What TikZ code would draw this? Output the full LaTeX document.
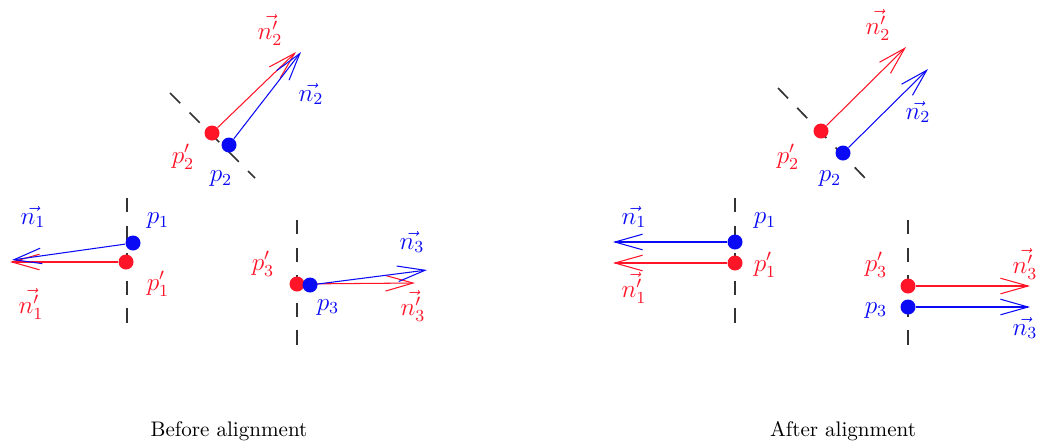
\documentclass[tikz,border=0pt]{standalone}
\usepackage{amsmath}
\usetikzlibrary{arrows.meta}
\definecolor{ptred}{RGB}{255,20,40}
\definecolor{ptblue}{RGB}{10,10,245}

\begin{document}
\begin{tikzpicture}[x=0.01667cm,y=-0.01667cm,
  >={Straight Barb[length=4.6mm,width=2.6mm]},
  pt/.style={circle,inner sep=0pt,minimum size=2.5mm},
  ref/.style={draw=black!80,line width=0.8pt,dash pattern=on 2.4mm off 2.2mm},
  vec/.style={->,line width=0.5pt},
  lab/.style={inner sep=0pt,font=\large}]
  \useasboundingbox (0,0) rectangle (1041,443);
  % before alignment
  \draw[ref] (127,198) -- (127,325);
  \draw[ref] (170,93) -- (255,178);
  \draw[ref] (297,220) -- (297,348);
  \coordinate (bn1) at (12,260);  \coordinate (bm1) at (10,262);
  \coordinate (bn2) at (301,52);  \coordinate (bm2) at (296,52);
  \coordinate (bn3) at (427,270); \coordinate (bm3) at (415,283);
  \node[pt,fill=ptred] (bq1) at (126,262) {};
  \node[pt,fill=ptblue] (bp1) at (133,243) {};
  \node[pt,fill=ptred] (bq2) at (212,133) {};
  \node[pt,fill=ptblue] (bp2) at (229,145) {};
  \draw[vec,ptred] (bq1) -- (bm1);
  \draw[vec,ptblue] (bp1) -- (bn1);
  \draw[vec,ptred] (bq2) -- (bm2);
  \draw[vec,ptblue] (bp2) -- (bn2);
  \draw[vec,ptred] (297,284) -- (bm3);
  \draw[vec,ptblue] (310,285) -- (bn3);
  \node[pt,fill=ptred] (bq3) at (297,284) {};
  \node[pt,fill=ptblue] (bp3) at (310,285) {};
  \node[lab,ptblue] (lbn1) at (33,217) {$\vec{n_1}$};
  \node[lab,ptblue] (lbp1) at (158,221) {$p_1$};
  \node[lab,ptred] (lbq1) at (158,284) {$p'_1$};
  \node[lab,ptred] (lbm1) at (31,304) {$\vec{n'_1}$};
  \node[lab,ptred] (lbm2) at (270,30) {$\vec{n'_2}$};
  \node[lab,ptblue] (lbn2) at (311,94) {$\vec{n_2}$};
  \node[lab,ptred] (lbq2) at (183,157) {$p'_2$};
  \node[lab,ptblue] (lbp2) at (221,179) {$p_2$};
  \node[lab,ptblue] (lbn3) at (412,242) {$\vec{n_3}$};
  \node[lab,ptred] (lbm3) at (413,306) {$\vec{n'_3}$};
  \node[lab,ptred] (lbq3) at (263,264) {$p'_3$};
  \node[lab,ptblue] (lbp3) at (328,307) {$p_3$};
  \node (before) at (229,431) {Before alignment};
  % after alignment
  \draw[ref] (735,198) -- (735,325);
  \draw[ref] (778,88) -- (865,178);
  \draw[ref] (908,220) -- (908,350);
  \coordinate (an1) at (613,242);  \coordinate (am1) at (613,263);
  \coordinate (an2) at (928,69);   \coordinate (am2) at (906,47);
  \coordinate (an3) at (1030,307); \coordinate (am3) at (1030,286);
  \node[pt,fill=ptblue] (ap1) at (735,242) {};
  \node[pt,fill=ptred] (aq1) at (735,263) {};
  \node[pt,fill=ptred] (aq2) at (821,131) {};
  \node[pt,fill=ptblue] (ap2) at (843,153) {};
  \node[pt,fill=ptred] (aq3) at (908,286) {};
  \node[pt,fill=ptblue] (ap3) at (908,307) {};
  \draw[vec,ptblue] (ap1) -- (an1);
  \draw[vec,ptred] (aq1) -- (am1);
  \draw[vec,ptred] (aq2) -- (am2);
  \draw[vec,ptblue] (ap2) -- (an2);
  \draw[vec,ptred] (aq3) -- (am3);
  \draw[vec,ptblue] (ap3) -- (an3);
  \node[lab,ptblue] (lan1) at (634,217) {$\vec{n_1}$};
  \node[lab,ptblue] (lap1) at (765,221) {$p_1$};
  \node[lab,ptred] (laq1) at (765,265) {$p'_1$};
  \node[lab,ptred] (lam1) at (634,288) {$\vec{n'_1}$};
  \node[lab,ptred] (lam2) at (878,25) {$\vec{n'_2}$};
  \node[lab,ptblue] (lan2) at (918,112) {$\vec{n_2}$};
  \node[lab,ptred] (laq2) at (788,157) {$p'_2$};
  \node[lab,ptblue] (lap2) at (830,179) {$p_2$};
  \node[lab,ptred] (lam3) at (1025,264) {$\vec{n'_3}$};
  \node[lab,ptblue] (lan3) at (1025,328) {$\vec{n_3}$};
  \node[lab,ptred] (laq3) at (876,265) {$p'_3$};
  \node[lab,ptblue] (lap3) at (876,310) {$p_3$};
  \node (after) at (843,431) {After alignment};
\end{tikzpicture}
\end{document}
